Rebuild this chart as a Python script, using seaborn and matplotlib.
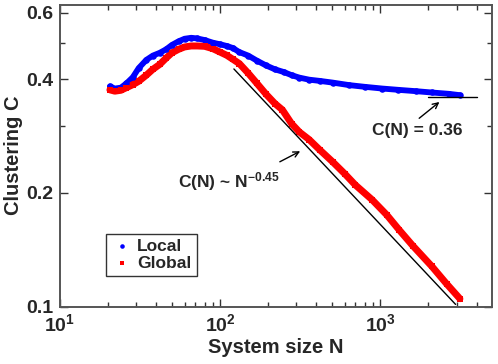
import matplotlib
matplotlib.use("Agg")
import matplotlib.pyplot as plt
import seaborn as sns
import pandas as pd
from matplotlib.ticker import FixedLocator, FixedFormatter, NullFormatter

# ---- data ----
local_n = [20.5, 22, 24, 26, 28.5, 31, 34.6, 38, 42, 46, 50, 55, 60, 66, 72, 80, 90,
           100, 110, 120, 132, 150, 170, 194, 220, 250, 280, 313, 360, 420, 504, 640,
           800, 1030, 1300, 1670, 2100, 2690, 3150]
local_c = [0.383, 0.378, 0.380, 0.390, 0.405, 0.428, 0.450, 0.462, 0.470, 0.480, 0.493,
           0.504, 0.512, 0.515, 0.513, 0.508, 0.500, 0.495, 0.490, 0.484, 0.472, 0.462,
           0.448, 0.435, 0.425, 0.418, 0.410, 0.404, 0.399, 0.396, 0.392, 0.386, 0.382,
           0.378, 0.375, 0.372, 0.369, 0.366, 0.363]

global_n = [20.5, 22, 24, 26, 28.5, 31, 34.6, 38, 42, 46, 50, 55, 60, 66, 72, 80, 90,
            100, 110, 120, 132, 150, 170, 194, 220, 245, 280, 313, 360, 420, 504, 600,
            700, 890, 1100, 1310, 1600, 2100, 2600, 3150]
global_c = [0.375, 0.372, 0.374, 0.380, 0.387, 0.395, 0.410, 0.425, 0.438, 0.455, 0.470,
            0.480, 0.487, 0.490, 0.490, 0.489, 0.482, 0.472, 0.463, 0.452, 0.440, 0.415,
            0.390, 0.365, 0.345, 0.332, 0.305, 0.290, 0.277, 0.260, 0.242, 0.225, 0.210,
            0.192, 0.175, 0.160, 0.145, 0.128, 0.115, 0.105]

fit_n = [122, 2960]
fit_amp = 3.7
fit_exp = -0.45
const_n = [2000, 4000]
const_c = 0.36

x_major = [10, 100, 1000]
x_major_labels = [r"$10^{1}$", r"$10^{2}$", r"$10^{3}$"]
y_major = [0.1, 0.2, 0.4, 0.6]
y_major_labels = ["0.1", "0.2", "0.4", "0.6"]
y_minor = [0.3, 0.5]

# ---- style ----
sns.set_style("ticks")
plt.rcParams["font.family"] = ["Liberation Sans", "DejaVu Sans"]
plt.rcParams["font.weight"] = "bold"
plt.rcParams["mathtext.fontset"] = "custom"
plt.rcParams["mathtext.rm"] = "Liberation Sans:bold"
plt.rcParams["mathtext.bf"] = "Liberation Sans:bold"
plt.rcParams["mathtext.it"] = "Liberation Sans:bold"
plt.rcParams["mathtext.default"] = "bf"

fig = plt.figure(figsize=(4.98, 3.64), dpi=100)
ax = fig.add_axes([0.1205, 0.1574, 0.8675, 0.8296])

df_local = pd.DataFrame({"N": local_n, "C": local_c})
df_global = pd.DataFrame({"N": global_n, "C": global_c})

blue = "#0000ff"
red = "#ff0000"

sns.lineplot(data=df_local, x="N", y="C", ax=ax, color=blue, linewidth=4.2,
             legend=False, zorder=3)
sns.scatterplot(data=df_local, x="N", y="C", ax=ax, color=blue, marker="o",
                s=22, edgecolor=blue, linewidth=0, label="Local", zorder=4)
sns.lineplot(data=df_global, x="N", y="C", ax=ax, color=red, linewidth=5.0,
             legend=False, zorder=3)
sns.scatterplot(data=df_global, x="N", y="C", ax=ax, color=red, marker="s",
                s=22, edgecolor=red, linewidth=0, label="Global", zorder=4)

# reference lines
fit_df = pd.DataFrame({"N": fit_n, "C": [fit_amp * n ** fit_exp for n in fit_n]})
sns.lineplot(data=fit_df, x="N", y="C", ax=ax, color="black", linewidth=1.0,
             legend=False, zorder=5)
const_df = pd.DataFrame({"N": const_n, "C": [const_c] * len(const_n)})
sns.lineplot(data=const_df, x="N", y="C", ax=ax, color="black", linewidth=1.0,
             legend=False, zorder=5)

ax.set_xscale("log")
ax.set_yscale("log")
ax.set_xlim(10, 5000)
ax.set_ylim(0.1, 0.63)

ax.xaxis.set_major_locator(FixedLocator(x_major))
ax.xaxis.set_major_formatter(FixedFormatter(x_major_labels))
ax.xaxis.set_minor_locator(FixedLocator(
    [k * 10 for k in range(2, 10)] + [k * 100 for k in range(2, 10)] + [k * 1000 for k in range(2, 5)]))
ax.xaxis.set_minor_formatter(NullFormatter())
ax.yaxis.set_major_locator(FixedLocator(y_major))
ax.yaxis.set_major_formatter(FixedFormatter(y_major_labels))
ax.yaxis.set_minor_locator(FixedLocator(y_minor))
ax.yaxis.set_minor_formatter(NullFormatter())

ax.tick_params(which="both", direction="in", top=True, right=True,
               color="#333333", width=1.0)
ax.tick_params(which="major", length=6, labelsize=14, pad=5)
ax.tick_params(which="minor", length=3.5)
for sp in ax.spines.values():
    sp.set_color("#555555")
    sp.set_linewidth(1.4)

ax.set_xlabel("System size N", fontsize=14.5, fontweight="bold", labelpad=2)
ax.set_ylabel("Clustering C", fontsize=14.5, fontweight="bold", labelpad=2)

# annotations
ax.text(113, 0.214, r"C(N) ~ N$^{-0.45}$", fontsize=12.5, fontweight="bold",
        ha="center", va="center")
ax.annotate("", xy=(328, 0.26), xytext=(228, 0.240),
            arrowprops=dict(arrowstyle="->", color="black", lw=1.0))
ax.text(1700, 0.293, "C(N) = 0.36", fontsize=12.5, fontweight="bold",
        ha="center", va="center")
ax.annotate("", xy=(2420, 0.352), xytext=(1700, 0.312),
            arrowprops=dict(arrowstyle="->", color="black", lw=1.0))

leg = ax.legend(loc="lower left", bbox_to_anchor=(0.1065, 0.1017), borderaxespad=0,
                frameon=True, fancybox=False, prop={"size": 12.5, "weight": "bold"},
                handletextpad=0.3, borderpad=0.3, labelspacing=0.1,
                markerscale=0.7, handlelength=1.2)
leg.get_frame().set_edgecolor("black")
leg.get_frame().set_linewidth(1.0)

fig.savefig("out.png", dpi=100)
